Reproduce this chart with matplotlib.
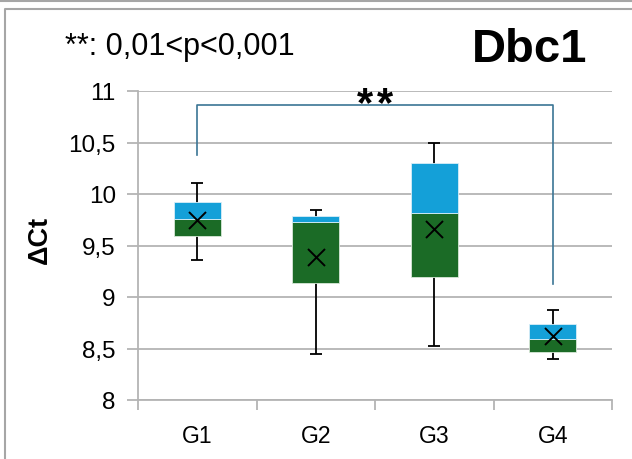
import matplotlib
matplotlib.use("Agg")
import matplotlib.pyplot as plt
from matplotlib.lines import Line2D

plt.rcParams["font.family"] = ["Liberation Sans", "DejaVu Sans"]

groups = ["G1", "G2", "G3", "G4"]
whisker_low = [9.36, 8.45, 8.52, 8.40]
q1 = [9.59, 9.14, 9.19, 8.47]
median = [9.76, 9.73, 9.82, 8.59]
q3 = [9.92, 9.79, 10.30, 8.74]
whisker_high = [10.11, 9.84, 10.50, 8.87]
means = [9.75, 9.39, 9.66, 8.62]

green = "#1B6B26"
blue = "#14A0D8"
grey = "#B4B4B4"


def main():
    fig = plt.figure(figsize=(6.32, 4.60), dpi=100)
    ax = fig.add_axes([138 / 632, 1 - 401 / 460, 474 / 632, 309 / 460])

    x = list(range(len(groups)))
    w = 0.40

    # whiskers behind the boxes
    ax.vlines(x, whisker_low, whisker_high, color="black", lw=1.3, zorder=2)
    ax.hlines(whisker_low, [i - 0.05 for i in x], [i + 0.05 for i in x], color="black", lw=1.3, zorder=2)
    ax.hlines(whisker_high, [i - 0.05 for i in x], [i + 0.05 for i in x], color="black", lw=1.3, zorder=2)

    lower = [m - a for m, a in zip(median, q1)]
    upper = [b - m for b, m in zip(q3, median)]
    ax.bar(x, lower, w, bottom=q1, color=green, edgecolor="#d8e8d8", lw=0.6, zorder=3)
    ax.bar(x, upper, w, bottom=median, color=blue, edgecolor="#d8eef8", lw=0.6, zorder=3)
    ax.scatter(x, means, marker="x", s=150, color="black", lw=1.4, zorder=4)

    ax.set_xlim(-0.5, 3.5)
    ax.set_ylim(8, 11)
    ax.set_yticks([8, 8.5, 9, 9.5, 10, 10.5, 11])
    ax.set_yticklabels(["8", "8,5", "9", "9,5", "10", "10,5", "11"])
    ax.set_xticks(x)
    ax.set_xticklabels(groups)
    ax.set_xticks([-0.5, 0.5, 1.5, 2.5, 3.5], minor=True)
    ax.tick_params(axis="x", which="major", length=0, pad=17, labelsize=16.5)
    ax.tick_params(axis="x", which="minor", length=7, width=1.3, color=grey)
    ax.tick_params(axis="y", length=8, width=1.3, color=grey, labelsize=17.5, pad=8)

    for s in ["top", "right"]:
        ax.spines[s].set_visible(False)
    for s in ["left", "bottom"]:
        ax.spines[s].set_color(grey)
        ax.spines[s].set_linewidth(1.3)
    ax.yaxis.grid(True, color=grey, lw=1.3)
    ax.set_axisbelow(True)

    ax.set_ylabel("ΔCt", fontsize=19.5, fontweight="bold")
    ax.yaxis.set_label_coords(-0.179, 0.52)

    # significance bracket G1 - G4
    bracket_y = 10.86
    ax.plot([0, 0, 3, 3], [10.38, bracket_y, bracket_y, 9.13], color="#3B7595", lw=1.2,
            zorder=5, clip_on=False)
    for dx in (-0.085, 0.085):
        ax.text(1.5 + dx, 10.77, "*", ha="center", va="baseline", fontsize=30,
                fontweight="bold")

    fig.text(65 / 632, 1 - 47 / 460, "**: 0,01<p<0,001", fontsize=22, va="center", ha="left")
    fig.text(472 / 632, 1 - 50 / 460, "Dbc1", fontsize=34, fontweight="bold", va="center", ha="left")

    # frame around the chart
    fig.add_artist(Line2D([0, 1], [1 - 2 / 460, 1 - 2 / 460], transform=fig.transFigure,
                          color="#A6A6A6", lw=1.5))
    fig.add_artist(Line2D([5 / 632, 5 / 632, 1], [0, 1 - 10 / 460, 1 - 10 / 460],
                          transform=fig.transFigure, color="#A6A6A6", lw=1.5))

    fig.savefig("out.png", dpi=100)


if __name__ == "__main__":
    main()
